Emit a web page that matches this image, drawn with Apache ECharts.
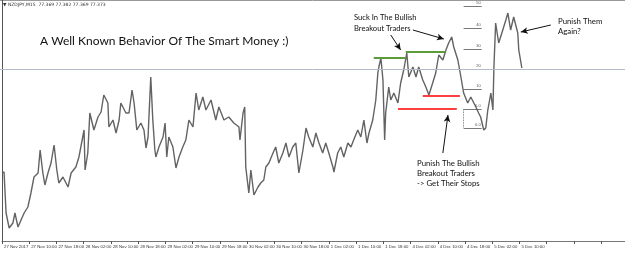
<!DOCTYPE html>
<html>
<head>
<meta charset="utf-8">
<script src="https://cdn.jsdelivr.net/npm/echarts@6/dist/echarts.min.js"></script>
<style>
  html, body { margin: 0; padding: 0; background: #fff; }
  #chart { width: 625px; height: 254px; }
</style>
</head>
<body>
<div id="chart"></div>
<script>
// hours since the first bar (weekend removed), price
var hours = [0, 0.6, 1.2, 2.1, 3.2, 3.8, 4.7, 5.6, 6.5, 7.6, 8.5, 9.4, 10.6, 11.2, 12.0, 12.6, 13.5, 14.4, 15.3, 16.1,
  16.7, 17.9, 19.4, 20.3, 21.7, 22.6, 24.1, 24.4, 25.2, 25.8, 27.0, 28.2, 29.1, 29.9, 31.1, 31.4, 32.6, 33.5, 34.4, 34.9,
  36.4, 37.3, 38.2, 38.8, 39.6, 40.8, 41.7, 42.3, 42.9, 43.7, 44.3, 44.9, 45.2, 46.1, 47.3, 47.9, 48.4, 49.0, 50.2, 51.1,
  52.0, 53.1, 54.0, 54.9, 56.1, 57.0, 57.8, 59.0, 59.9, 61.4, 62.8, 63.7, 65.2, 66.6, 68.1, 69.6, 69.9, 70.8, 71.3, 71.6,
  72.5, 73.1, 74.0, 75.2, 76.0, 76.9, 77.5, 78.4, 79.6, 80.4, 81.3, 82.5, 83.4, 84.3, 85.4, 86.3, 87.2, 88.4, 89.3, 90.1,
  91.3, 92.2, 93.1, 94.2, 95.1, 96.0, 97.2, 97.5, 98.6, 99.5, 100.4, 101.6, 102.5, 103.3, 104.5, 105.4, 106.3, 107.2, 107.8, 108.9,
  109.8, 110.4, 110.7, 111.3, 111.9, 112.4, 112.7, 113.6, 114.2, 115.1, 116.3, 117.1, 118.0, 118.9, 119.5, 120.7, 121.6, 122.4, 123.6, 124.5,
  125.4, 126.5, 127.4, 128.3, 129.5, 130.4, 131.2, 132.1, 132.7, 133.9, 134.8, 135.6, 136.8, 137.7, 139.2, 140.0, 140.6, 141.5, 142.1, 142.7,
  143.6, 144.2, 144.5, 145.0, 145.9, 147.1, 148.0, 148.6, 149.4, 150.3, 151.5, 151.8, 152.7];
var prices = [76.33, 76.34, 75.93, 75.78, 75.83, 75.93, 75.79, 75.86, 75.93, 75.99, 76.13, 76.29, 76.33, 76.56, 76.33, 76.21, 76.33, 76.43, 76.61, 76.36,
  76.23, 76.29, 76.19, 76.33, 76.39, 76.49, 76.76, 76.36, 76.53, 76.93, 76.76, 76.89, 76.94, 77.11, 77.03, 76.79, 76.86, 76.73, 76.86, 77.03,
  76.93, 76.93, 77.16, 77.03, 76.76, 76.83, 76.76, 76.58, 76.69, 77.29, 76.86, 76.56, 76.49, 76.59, 76.69, 76.83, 76.49, 76.69, 76.59, 76.38,
  76.49, 76.59, 76.66, 76.86, 76.79, 77.13, 76.96, 77.09, 76.96, 77.06, 76.86, 76.99, 76.86, 76.89, 76.83, 76.79, 76.66, 76.93, 76.99, 76.39,
  76.13, 76.36, 76.11, 76.19, 76.23, 76.26, 76.39, 76.43, 76.53, 76.59, 76.43, 76.53, 76.63, 76.49, 76.59, 76.63, 76.33, 76.56, 76.78, 76.69,
  76.59, 76.73, 76.63, 76.53, 76.63, 76.53, 76.39, 76.34, 76.53, 76.59, 76.49, 76.63, 76.59, 76.66, 76.76, 76.69, 76.86, 76.63, 76.73, 76.86,
  77.06, 77.33, 77.39, 77.48, 77.26, 76.66, 76.93, 77.19, 77.06, 77.13, 77.03, 77.23, 77.36, 77.53, 77.29, 77.39, 77.29, 77.39, 77.26, 77.19,
  77.11, 77.23, 77.33, 77.51, 77.46, 77.56, 77.63, 77.69, 77.59, 77.46, 77.29, 77.13, 77.03, 77.09, 76.99, 76.93, 76.89, 76.76, 76.78, 76.96,
  77.13, 76.96, 77.39, 77.83, 77.63, 77.76, 77.86, 77.93, 77.76, 77.89, 77.73, 77.56, 77.38];

var tickLabels = ['27 Nov 2017', '27 Nov 10:00', '27 Nov 18:00', '28 Nov 02:00', '28 Nov 10:00', '28 Nov 18:00',
  '29 Nov 02:00', '29 Nov 10:00', '29 Nov 18:00', '30 Nov 02:00', '30 Nov 10:00', '30 Nov 18:00',
  '1 Dec 02:00', '1 Dec 10:00', '1 Dec 18:00', '4 Dec 02:00', '4 Dec 10:00', '4 Dec 18:00',
  '5 Dec 02:00', '5 Dec 10:00', ''];

var bidPrice = 77.37;
// green highs and red lows drawn on the chart: [from hour, to hour, price]
var greenLevels = [[109.2, 118.6, 77.48], [118.6, 130.4, 77.545]];
var redLevels = [[123.6, 134.5, 77.10], [116.3, 133.6, 76.97]];
// fibo tool
var fiboFrom = 135.6, fiboTo = 140.9;
var fiboPrices = [78.00, 77.78, 77.57, 77.37, 77.17, 76.97, 76.78];
var fiboLabels = ['50', '40', '30', '20', '10', '0.0', '0.0'];
// arrows: [hour, price] tail -> head
var arrows = [
  [[114.2, 77.71], [117.1, 77.56]],
  [[120.7, 77.76], [129.8, 77.67]],
  [[161.2, 77.81], [152.4, 77.74]],
  [[129.5, 76.53], [131.0, 76.91]]
];

var lines = [];
greenLevels.forEach(function (g) {
  lines.push([{ coord: [g[0], g[2]], lineStyle: { color: '#5b9b3a', width: 2, type: 'solid' } }, { coord: [g[1], g[2]] }]);
});
redLevels.forEach(function (r) {
  lines.push([{ coord: [r[0], r[2]], lineStyle: { color: '#ff0000', width: 1.5, type: 'solid' } }, { coord: [r[1], r[2]] }]);
});
fiboPrices.forEach(function (p, i) {
  lines.push([{
    coord: [fiboFrom, p], lineStyle: { color: '#555', width: 0.8, type: 'solid' },
    label: { show: true, position: 'insideEndTop', formatter: fiboLabels[i], fontSize: 4, color: '#555', distance: 1 }
  }, { coord: [fiboTo, p] }]);
});
lines.push([{ coord: [fiboFrom, fiboPrices[5]], lineStyle: { color: '#555', width: 0.8, type: 'dotted' } }, { coord: [fiboFrom, fiboPrices[6]] }]);
lines.push([{ yAxis: bidPrice, x: 0, lineStyle: { color: '#b3bcc6', width: 1, type: 'solid' } }, { yAxis: bidPrice, x: 625 }]);

var arrowLines = arrows.map(function (a) {
  return [{ coord: a[0] }, { coord: a[1] }];
});

var chart = echarts.init(document.getElementById('chart'), null, { renderer: 'canvas' });
chart.setOption({
  animation: false,
  backgroundColor: '#fff',
  grid: { left: 2, right: 0, top: 0, bottom: 13 },
  xAxis: {
    type: 'value', min: 0, max: 183, interval: 8,
    axisLine: { show: true, lineStyle: { color: '#777', width: 1 } },
    axisTick: { show: true, length: 3, lineStyle: { color: '#555' } },
    splitLine: { show: false },
    axisLabel: {
      fontSize: 4.3, color: '#333', fontFamily: 'Liberation Sans', align: 'left', margin: 4,
      padding: [0, 0, 0, 2], showMinLabel: true, showMaxLabel: false, hideOverlap: false,
      formatter: function (v) { return tickLabels[Math.round(v / 8)] || ''; }
    }
  },
  yAxis: {
    type: 'value', min: 75.65, max: 78.06,
    axisLine: { show: true, lineStyle: { color: '#555', width: 1 } },
    axisTick: { show: false }, axisLabel: { show: false }, splitLine: { show: false }
  },
  series: [
    {
      type: 'line', symbol: 'none', silent: true,
      data: hours.map(function (h, i) { return [h, prices[i]]; }),
      lineStyle: { color: '#636363', width: 1.4 },
      markLine: { silent: true, symbol: 'none', label: { show: false }, data: lines }
    },
    {
      type: 'line', data: [], silent: true,
      markLine: {
        silent: true, symbol: ['none', 'arrow'], symbolSize: [5, 7],
        label: { show: false },
        lineStyle: { color: '#111', width: 1, type: 'solid' },
        data: arrowLines
      }
    }
  ],
  graphic: [
    { type: 'line', shape: { x1: 0, y1: 0.5, x2: 625, y2: 0.5 }, style: { stroke: '#999', lineWidth: 1 } },
    { type: 'text', left: 3, top: 2, style: { text: '\u25BC NZDJPY,M15  77.369 77.382 77.369 77.373', font: '4.5px DejaVu Sans', fill: '#333' } },
    { type: 'text', left: 40, top: 35, style: { text: 'A Well Known Behavior Of The Smart Money :)', font: '12px Lato', fill: '#111' } },
    { type: 'text', left: 354, top: 12, style: { text: 'Suck In The Bullish\nBreakout Traders', font: '7.6px Lato', fill: '#111', lineHeight: 11 } },
    { type: 'text', left: 558, top: 16, style: { text: 'Punish Them\nAgain?', font: '7.8px Lato', fill: '#111', lineHeight: 10.5 } },
    { type: 'text', left: 417, top: 158, style: { text: 'Punish The Bullish\nBreakout Traders\n-> Get Their Stops', font: '7.8px Lato', fill: '#111', lineHeight: 10 } }
  ]
});
</script>
</body>
</html>
